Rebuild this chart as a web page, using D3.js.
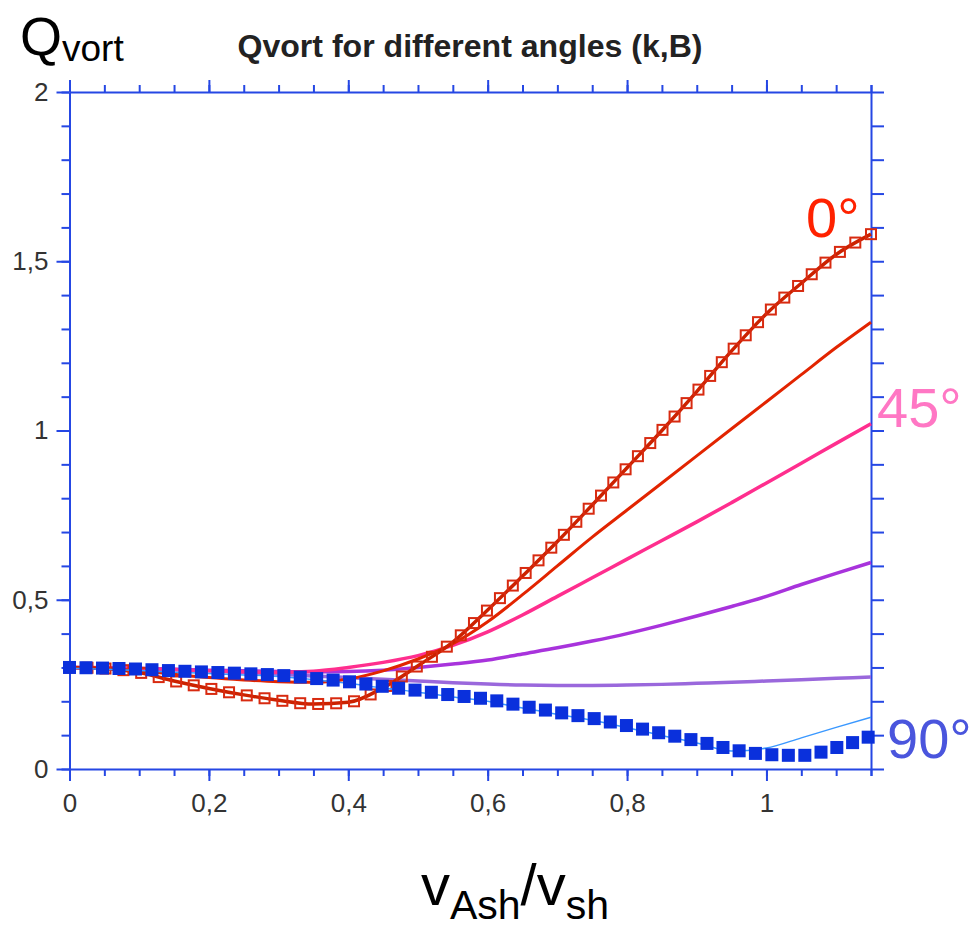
<!DOCTYPE html>
<html lang="en">
<head>
  <meta charset="UTF-8">
  <script src="https://d3js.org/d3.v7.min.js"></script>
  <title>Qvort</title>
  <style>
    body { margin: 0; background: #fff; }
    text { font-family: "Liberation Sans", Arial, sans-serif; }
  </style>
</head>
<body>
  <script type="text/javascript">

    const w = 973;
    const h = 928;

    // shared x grid (v_Ash / v_sh)
    var xGrid = [0, 0.05, 0.1, 0.15, 0.2, 0.25, 0.3, 0.35, 0.4, 0.45, 0.5, 0.55,
      0.6, 0.65, 0.7, 0.75, 0.8, 0.85, 0.9, 0.95, 1.0, 1.05, 1.1, 1.15];

    // series values
    var q0Squares = [0.300, 0.297, 0.285, 0.260, 0.238, 0.219, 0.203, 0.192, 0.197, 0.240, 0.305, 0.375,
      0.470, 0.570, 0.672, 0.780, 0.890, 1.000, 1.115, 1.235, 1.345, 1.435, 1.520, 1.580];
    var qRed = [0.300, 0.297, 0.290, 0.280, 0.270, 0.263, 0.258, 0.256, 0.266, 0.290, 0.325, 0.370,
      0.435, 0.515, 0.600, 0.685, 0.765, 0.845, 0.925, 1.005, 1.085, 1.165, 1.245, 1.320];
    var qPink = [0.300, 0.299, 0.297, 0.294, 0.290, 0.287, 0.286, 0.289, 0.300, 0.315, 0.335, 0.365,
      0.405, 0.455, 0.510, 0.565, 0.620, 0.675, 0.730, 0.787, 0.845, 0.903, 0.962, 1.020];
    var qPurple = [0.300, 0.299, 0.297, 0.295, 0.292, 0.290, 0.288, 0.287, 0.288, 0.292, 0.300, 0.310,
      0.322, 0.340, 0.358, 0.378, 0.400, 0.425, 0.452, 0.480, 0.510, 0.545, 0.578, 0.610];
    var qLilac = [0.300, 0.299, 0.297, 0.294, 0.290, 0.285, 0.280, 0.275, 0.270, 0.265, 0.260, 0.255,
      0.251, 0.248, 0.247, 0.247, 0.248, 0.250, 0.253, 0.256, 0.260, 0.264, 0.268, 0.272];
    var qSky = [0.298, 0.295, 0.291, 0.286, 0.282, 0.278, 0.273, 0.264, 0.253, 0.239, 0.227, 0.213,
      0.200, 0.180, 0.162, 0.144, 0.122, 0.099, 0.077, 0.053, 0.062, 0.092, 0.123, 0.153];
    var q90Squares = [0.300, 0.298, 0.295, 0.290, 0.286, 0.282, 0.277, 0.268, 0.258, 0.244, 0.232, 0.218,
      0.206, 0.186, 0.168, 0.150, 0.128, 0.105, 0.083, 0.058, 0.043, 0.040, 0.063, 0.097];

    var xTicksMajor = [0, 0.2, 0.4, 0.6, 0.8, 1];
    var yTicksMajor = [0, 0.5, 1, 1.5, 2];

    var svg = d3.select("body")
      .append("svg")
      .attr("width", w)
      .attr("height", h);

    var x = d3.scaleLinear()
      .domain([0, 1.15])
      .range([69.5, 871]);

    var y = d3.scaleLinear()
      .domain([0, 2])
      .range([769, 92]);

    var axisColor = "#2547e4";
    var fmt = function (d) { return String(d).replace(".", ","); };

    // minor ticks
    var xMinor = d3.range(0, 1.15 + 1e-9, 0.05).map(function (d) { return +d.toFixed(2); });
    xMinor.push(1.15);
    var yMinor = d3.range(0, 2 + 1e-9, 0.1).map(function (d) { return +d.toFixed(1); });

    function styleAxis(g) {
      g.select(".domain").attr("stroke", axisColor).attr("stroke-width", 2);
      g.selectAll(".tick line").attr("stroke", axisColor).attr("stroke-width", 2);
    }

    // bottom: minor then major with labels
    svg.append("g")
      .attr("transform", "translate(0," + y(0) + ")")
      .call(d3.axisBottom(x).tickValues(xMinor).tickSize(7).tickSizeOuter(0).tickFormat(""))
      .call(styleAxis);
    svg.append("g")
      .attr("class", "x axis")
      .attr("transform", "translate(0," + y(0) + ")")
      .call(d3.axisBottom(x).tickValues(xTicksMajor).tickSize(12).tickSizeOuter(0).tickPadding(13).tickFormat(fmt))
      .call(styleAxis)
      .call(function (g) { g.select(".domain").remove(); });

    // top
    svg.append("g")
      .attr("transform", "translate(0," + y(2) + ")")
      .call(d3.axisTop(x).tickValues(xMinor).tickSize(7).tickSizeOuter(0).tickFormat(""))
      .call(styleAxis);
    svg.append("g")
      .attr("transform", "translate(0," + y(2) + ")")
      .call(d3.axisTop(x).tickValues(xTicksMajor).tickSize(12).tickSizeOuter(0).tickFormat(""))
      .call(styleAxis)
      .call(function (g) { g.select(".domain").remove(); });

    // left
    svg.append("g")
      .attr("transform", "translate(" + x(0) + ",0)")
      .call(d3.axisLeft(y).tickValues(yMinor).tickSize(8).tickSizeOuter(0).tickFormat(""))
      .call(styleAxis);
    svg.append("g")
      .attr("class", "y axis")
      .attr("transform", "translate(" + x(0) + ",0)")
      .call(d3.axisLeft(y).tickValues(yTicksMajor).tickSize(13).tickSizeOuter(0).tickPadding(8).tickFormat(fmt))
      .call(styleAxis)
      .call(function (g) { g.select(".domain").remove(); });

    // right
    svg.append("g")
      .attr("transform", "translate(" + x(1.15) + ",0)")
      .call(d3.axisRight(y).tickValues(yMinor).tickSize(13).tickSizeOuter(0).tickFormat(""))
      .call(styleAxis);

    svg.selectAll(".x.axis text, .y.axis text")
      .attr("font-size", 26)
      .attr("fill", "#333");

    // lines
    var line = d3.line()
      .defined(function (d) { return d[1] != null; })
      .x(function (d) { return x(d[0]); })
      .y(function (d) { return y(d[1]); })
      .curve(d3.curveMonotoneX);

    function pairs(vals) {
      return xGrid.map(function (v, i) { return [v, vals[i]]; });
    }

    var plot = svg.append("g");

    function drawLine(vals, color, width) {
      return plot.append("path")
        .datum(pairs(vals))
        .attr("d", line)
        .attr("fill", "none")
        .attr("stroke", color)
        .attr("stroke-width", width)
        .attr("stroke-linejoin", "round");
    }

    // squares placed at equal steps along the drawn curve
    function drawMarkers(path, step, size, fill, stroke) {
      var node = path.node();
      var len = node.getTotalLength();
      var pts = d3.range(0, len + 0.5, step).map(function (l) { return node.getPointAtLength(l); });
      plot.append("g").selectAll("rect")
        .data(pts)
        .enter()
        .append("rect")
        .attr("x", function (p) { return p.x - size / 2; })
        .attr("y", function (p) { return p.y - size / 2; })
        .attr("width", size)
        .attr("height", size)
        .attr("fill", fill)
        .attr("stroke", stroke)
        .attr("stroke-width", stroke == "none" ? 0 : 2);
    }

    drawLine(qLilac, "#9a68dc", 3.5);
    drawLine(qPurple, "#a833dc", 3.5);
    drawLine(qPink, "#ff2e8e", 3.5);
    drawLine(qRed, "#e22400", 3);
    var p0 = drawLine(q0Squares, "#cc2200", 3.5);
    drawMarkers(p0, 18, 10, "none", "#d82a10");
    drawLine(qSky, "#3a98ff", 1.5);
    var p90 = drawLine(q90Squares, "none", 0);
    drawMarkers(p90, 16.5, 13, "#0a30dc", "none");

    // titles
    svg.append("text")
      .attr("x", 470)
      .attr("y", 57)
      .attr("text-anchor", "middle")
      .attr("font-size", 31)
      .attr("font-weight", "bold")
      .attr("fill", "#222")
      .attr("textLength", 465)
      .attr("lengthAdjust", "spacingAndGlyphs")
      .text("Qvort for different angles (k,B)");

    var qLab = svg.append("text")
      .attr("x", 20)
      .attr("y", 55)
      .attr("font-size", 54)
      .attr("fill", "#000");
    qLab.append("tspan").text("Q");
    qLab.append("tspan").attr("font-size", 37).attr("dy", 6).text("vort");

    var xLab = svg.append("text")
      .attr("x", 515)
      .attr("y", 905)
      .attr("text-anchor", "middle")
      .attr("font-size", 58)
      .attr("fill", "#000");
    xLab.append("tspan").text("v");
    xLab.append("tspan").attr("font-size", 41).attr("dy", 14).text("Ash");
    xLab.append("tspan").attr("dy", -14).text("/v");
    xLab.append("tspan").attr("font-size", 41).attr("dy", 14).text("sh");

    // angle labels
    var angleLabels = [
      { t: "0°", c: "#ff2200", x: 806, y: 237 },
      { t: "45°", c: "#ff77c4", x: 877, y: 427 },
      { t: "90°", c: "#4a55dd", x: 887, y: 758 }
    ];
    svg.selectAll(".ang")
      .data(angleLabels)
      .enter()
      .append("text")
      .attr("class", "ang")
      .attr("x", function (d) { return d.x; })
      .attr("y", function (d) { return d.y; })
      .attr("font-size", 56)
      .attr("fill", function (d) { return d.c; })
      .text(function (d) { return d.t; });

  </script>
</body>
</html>
